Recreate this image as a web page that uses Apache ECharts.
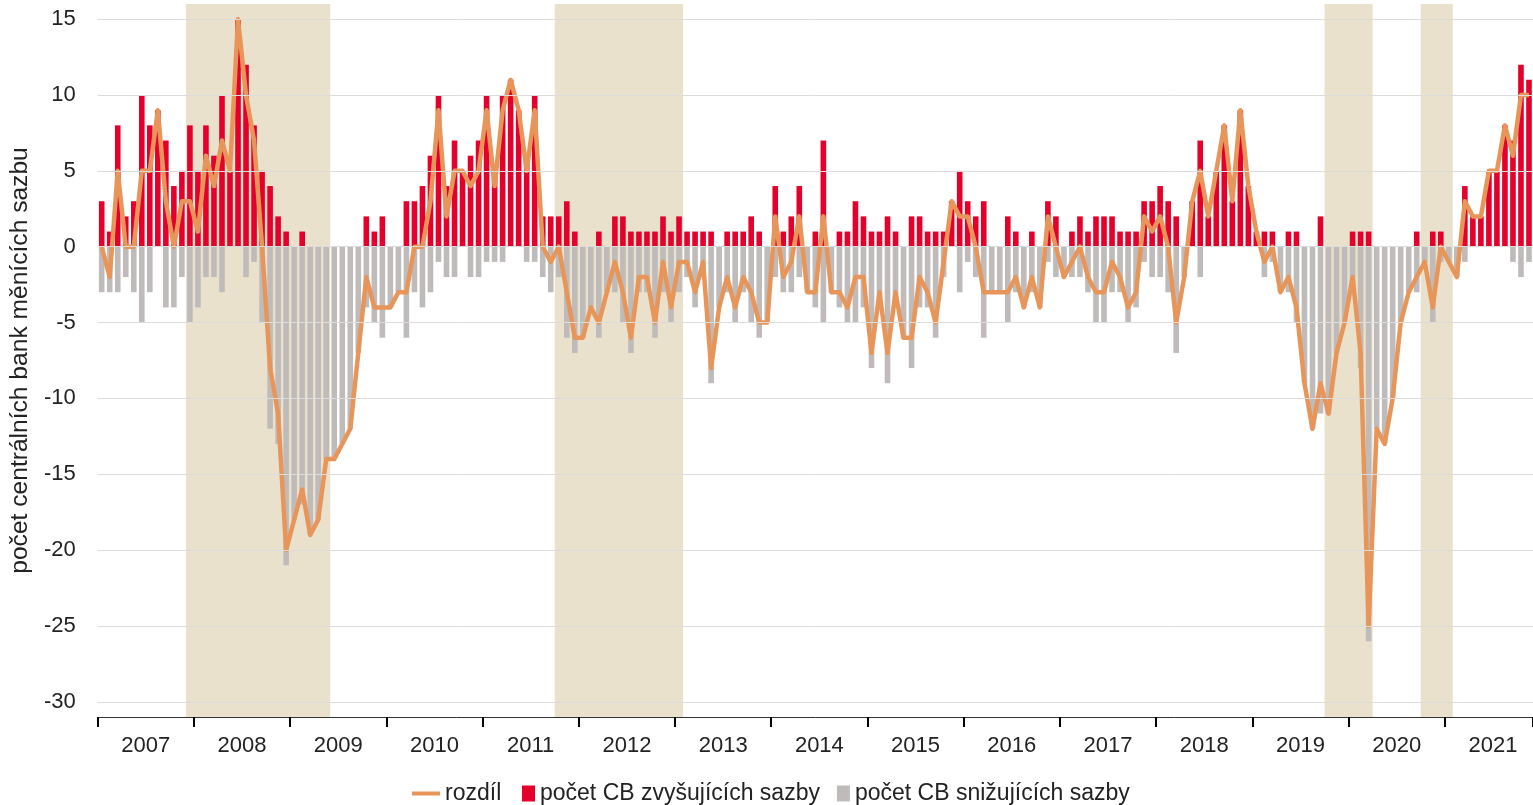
<!DOCTYPE html>
<html>
<head>
<meta charset="utf-8">
<script src="https://cdn.jsdelivr.net/npm/echarts@6/dist/echarts.min.js"></script>
<style>
  html, body { margin: 0; padding: 0; background: #ffffff; }
  #chart { width: 1533px; height: 805px; }
</style>
</head>
<body>
<div id="chart"></div>
<script>
// Měsíce leden 2007 – listopad 2021
const firstYear = 2007;
const monthCount = 179;
const months = [];
for (let i = 0; i < monthCount; i++) {
    const y = firstYear + Math.floor(i / 12);
    const m = (i % 12) + 1;
    months.push(y + '-' + (m < 10 ? '0' + m : m));
}

// počet CB zvyšujících sazby
const raising = [
    3, 1, 8, 2, 3, 10, 8, 9, 7, 4, 5, 8,
    5, 8, 6, 10, 5, 15, 12, 8, 5, 4, 2, 1,
    0, 1, 0, 0, 0, 0, 0, 0, 0, 2, 1, 2,
    0, 0, 3, 3, 4, 6, 10, 4, 7, 5, 6, 7,
    10, 5, 10, 11, 9, 6, 10, 2, 2, 2, 3, 1,
    0, 0, 1, 0, 2, 2, 1, 1, 1, 1, 2, 1,
    2, 1, 1, 1, 1, 0, 1, 1, 1, 2, 1, 0,
    4, 1, 2, 4, 0, 1, 7, 0, 1, 1, 3, 2,
    1, 1, 2, 1, 0, 2, 2, 1, 1, 1, 3, 5,
    3, 2, 3, 0, 0, 2, 1, 0, 1, 0, 3, 2,
    0, 1, 2, 1, 2, 2, 2, 1, 1, 1, 3, 3,
    4, 3, 2, 0, 3, 7, 2, 5, 8, 3, 9, 4,
    1, 1, 1, 0, 1, 1, 0, 0, 2, 0, 0, 0,
    1, 1, 1, 0, 0, 0, 0, 0, 1, 0, 1, 1,
    0, 0, 4, 2, 2, 5, 5, 8, 7, 12, 11
];

// počet CB snižujících sazby (záporně)
const cutting = [
    -3, -3, -3, -2, -3, -5, -3, 0, -4, -4, -2, -5,
    -4, -2, -2, -3, 0, 0, -2, -1, -5, -12, -13, -21,
    -18, -17, -19, -18, -14, -14, -13, -12, -7, -4, -5, -6,
    -4, -3, -6, -3, -4, -3, -1, -2, -2, 0, -2, -2,
    -1, -1, -1, 0, 0, -1, -1, -2, -3, -2, -6, -7,
    -6, -4, -6, -3, -3, -5, -7, -3, -3, -6, -3, -5,
    -3, -2, -4, -2, -9, -4, -3, -5, -3, -5, -6, -5,
    -2, -3, -3, -2, -3, -4, -5, -3, -4, -5, -5, -4,
    -8, -4, -9, -4, -6, -8, -4, -4, -6, -2, 0, -3,
    -1, -2, -6, -3, -3, -5, -3, -4, -3, -4, -1, -2,
    -2, -2, -2, -3, -5, -5, -3, -3, -5, -4, -1, -2,
    -2, -3, -7, -2, 0, -2, 0, 0, 0, 0, 0, 0,
    0, -2, -1, -3, -3, -5, -9, -12, -11, -11, -7, -5,
    -3, -8, -26, -12, -13, -10, -5, -3, -3, -1, -5, -1,
    -1, -2, -1, 0, 0, 0, 0, 0, -1, -2, -1
];

// rozdíl
const difference = [
    0, -2, 5, 0, 0, 5, 5, 9, 3, 0, 3, 3,
    1, 6, 4, 7, 5, 15, 10, 7, 0, -8, -11, -20,
    -18, -16, -19, -18, -14, -14, -13, -12, -7, -2, -4, -4,
    -4, -3, -3, 0, 0, 3, 9, 2, 5, 5, 4, 5,
    9, 4, 9, 11, 9, 5, 9, 0, -1, 0, -3, -6,
    -6, -4, -5, -3, -1, -3, -6, -2, -2, -5, -1, -4,
    -1, -1, -3, -1, -8, -4, -2, -4, -2, -3, -5, -5,
    2, -2, -1, 2, -3, -3, 2, -3, -3, -4, -2, -2,
    -7, -3, -7, -3, -6, -6, -2, -3, -5, -1, 3, 2,
    2, 0, -3, -3, -3, -3, -2, -4, -2, -4, 2, 0,
    -2, -1, 0, -2, -3, -3, -1, -2, -4, -3, 2, 1,
    2, 0, -5, -2, 3, 5, 2, 5, 8, 3, 9, 4,
    1, -1, 0, -3, -2, -4, -9, -12, -9, -11, -7, -5,
    -2, -7, -25, -12, -13, -10, -5, -3, -2, -1, -4, 0,
    -1, -2, 3, 2, 2, 5, 5, 8, 6, 10, 10
];

// zvýrazněná období (od, do) v měsících od ledna 2007
const shadedPeriods = [[11, 29], [57, 73], [153, 159], [165, 169]];

const yTicks = [15, 10, 5, 0, -5, -10, -15, -20, -25, -30];

const font = '"Liberation Sans", Arial, sans-serif';
const textColor = '#222222';

const chart = echarts.init(document.getElementById('chart'));
chart.setOption({
    animation: false,
    backgroundColor: '#ffffff',
    textStyle: { fontFamily: font },
    grid: { left: 92, right: 0, top: 4, bottom: 88 },
    legend: [
        {
            data: [{ name: 'rozdíl', icon: 'rect' }],
            left: 412,
            top: 782,
            padding: 0,
            itemWidth: 28,
            itemHeight: 4,
            textStyle: { fontSize: 23, color: textColor, fontFamily: font }
        },
        {
            data: [
                { name: 'počet CB zvyšujících sazby', icon: 'rect' },
                { name: 'počet CB snižujících sazby', icon: 'rect' }
            ],
            left: 522,
            top: 782,
            padding: 0,
            itemWidth: 13,
            itemHeight: 16,
            itemGap: 17,
            textStyle: { fontSize: 23, color: textColor, fontFamily: font }
        }
    ],
    xAxis: [
        {
            type: 'category',
            data: months,
            boundaryGap: true,
            axisLine: { onZero: false, lineStyle: { color: '#333333', width: 1 } },
            axisTick: {
                show: true,
                interval: (i) => i % 12 === 0,
                length: 10,
                lineStyle: { color: '#000000', width: 2 }
            },
            axisLabel: {
                interval: (i) => i % 12 === 6,
                formatter: (v) => v.slice(0, 4),
                fontSize: 22,
                color: textColor,
                margin: 18,
                padding: [0, 8, 0, 0]
            },
            splitLine: { show: false }
        },
        {
            type: 'value',
            min: 0,
            max: monthCount,
            show: false
        }
    ],
    yAxis: {
        type: 'value',
        min: -31,
        max: 16,
        interval: 1,
        name: 'počet centrálních bank měnících sazbu',
        nameLocation: 'middle',
        nameGap: 45,
        nameTextStyle: { fontSize: 24.6, color: textColor },
        axisLine: { show: false },
        axisTick: { show: false },
        splitLine: { show: false },
        axisLabel: {
            formatter: (v) => (v % 5 === 0 ? String(v) : ''),
            fontSize: 22,
            color: textColor,
            margin: 22
        }
    },
    series: [
        {
            name: 'shading',
            type: 'line',
            xAxisIndex: 1,
            data: [],
            z: 0,
            silent: true,
            markArea: {
                silent: true,
                itemStyle: { color: '#e9e1cb' },
                data: shadedPeriods.map(p => [{ xAxis: p[0] }, { xAxis: p[1] }])
            }
        },
        {
            name: 'grid',
            type: 'line',
            xAxisIndex: 1,
            data: [],
            z: 1,
            silent: true,
            markLine: {
                silent: true,
                symbol: ['none', 'none'],
                label: { show: false },
                lineStyle: { color: '#dcdcdc', type: 'solid', width: 1 },
                data: yTicks.map(v => ({ yAxis: v }))
            }
        },
        {
            name: 'počet CB zvyšujících sazby',
            type: 'bar',
            data: raising,
            barWidth: '70%',
            barGap: '-100%',
            itemStyle: { color: '#e4002b' },
            z: 2
        },
        {
            name: 'počet CB snižujících sazby',
            type: 'bar',
            data: cutting,
            barWidth: '70%',
            barGap: '-100%',
            itemStyle: { color: '#bfbbbb' },
            z: 2
        },
        {
            name: 'rozdíl',
            type: 'line',
            data: difference,
            showSymbol: false,
            symbol: 'none',
            lineStyle: { color: '#e8955a', width: 4.5, join: 'round' },
            itemStyle: { color: '#e8955a' },
            z: 3
        }
    ]
});
</script>
</body>
</html>
